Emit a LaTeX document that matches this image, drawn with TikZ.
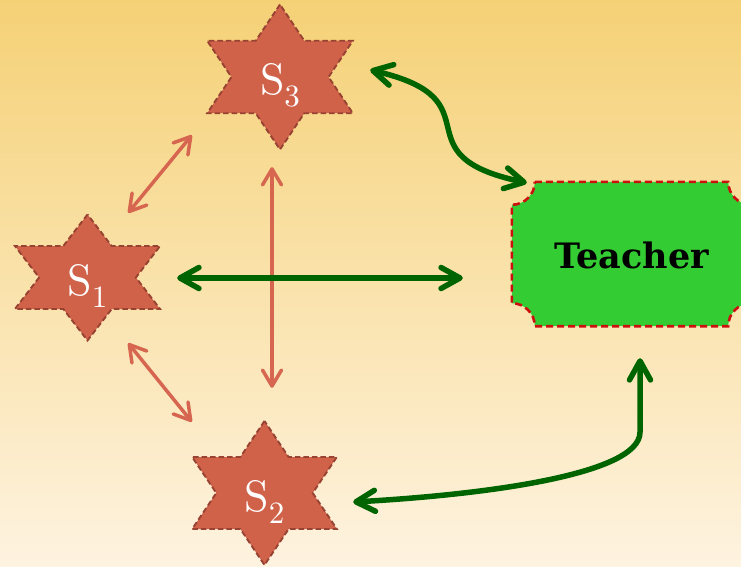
\documentclass[tikz,border=0pt]{standalone}
\usepackage{fontspec}
\usetikzlibrary{arrows.meta,calc}
\newfontfamily\teacherfont{DejaVu Serif}
\newfontfamily\labelfont{lmroman10-regular}[Extension=.otf]

\definecolor{bgtop}{RGB}{245,209,118}
\definecolor{bgbot}{RGB}{254,243,224}
\definecolor{starfill}{RGB}{208,98,74}
\definecolor{starline}{RGB}{152,66,50}
\definecolor{linkorange}{RGB}{214,102,80}
\definecolor{linkgreen}{RGB}{0,100,0}
\definecolor{boxgreen}{RGB}{51,204,51}
\definecolor{boxline}{RGB}{204,16,16}

\tikzset{
  starshape/.style={fill=starfill, draw=starline, line width=1.9pt, dash pattern=on 5.5pt off 3pt},
  starlabel/.style={text=white, inner sep=0pt, font=\labelfont\fontsize{44}{50}\selectfont},
  hullbox/.style={inner sep=0pt, minimum width=145pt},
  teacherbox/.style={fill=boxgreen, draw=boxline, line width=2.6pt, dash pattern=on 7pt off 4pt},
  oarrow/.style={draw=linkorange, line width=3.5pt, line cap=round,
    {Straight Barb[length=16pt,width=19pt,round]}-{Straight Barb[length=16pt,width=19pt,round]}},
  garrow/.style={draw=linkgreen, line width=5.5pt, line cap=round,
    {Straight Barb[length=19pt,width=21pt,round]}-{Straight Barb[length=19pt,width=21pt,round]}},
}

% six-pointed star: name, x, y, outer radius, horizontal stretch, subscript
\newcommand\hexstar[6]{%
  \begin{scope}[shift={(#2,#3)},xscale=#5]
    \draw[starshape] (90:#4) -- (120:#4*0.57735) -- (150:#4) -- (180:#4*0.57735)
      -- (210:#4) -- (240:#4*0.57735) -- (270:#4) -- (300:#4*0.57735)
      -- (330:#4) -- (0:#4*0.57735) -- (30:#4) -- (60:#4*0.57735) -- cycle;
  \end{scope}
  \node[hullbox, minimum height={2*#4pt}] (#1) at (#2,#3) {};
  \node[starlabel, anchor=base] (#1-label) at ([yshift=-18pt]#1.center)
    {S\raisebox{-12pt}{\fontsize{31}{31}\selectfont #6}};
}

\begin{document}
\begin{tikzpicture}[x=1pt,y=1pt]
  \clip (0,0) rectangle (741,-567);
  \shade[top color=bgtop, bottom color=bgbot] (0,0) rectangle (741,-567);

  % students
  \hexstar{s3}{280}{-77}{72.5}{1.16}{3}
  \hexstar{s1}{87.5}{-277.5}{63}{1.33}{1}
  \hexstar{s2}{264.5}{-493}{72}{1.16}{2}

  % teacher
  \node[inner sep=0pt, minimum width=239pt, minimum height=144pt] (teacher) at (631.5,-254) {};
  \draw[teacherbox]
    ([xshift=23pt]teacher.north west) -- ([xshift=-23pt]teacher.north east)
      arc[start angle=180, end angle=270, radius=23pt]
    -- ([yshift=23pt]teacher.south east)
      arc[start angle=90, end angle=180, radius=23pt]
    -- ([xshift=23pt]teacher.south west)
      arc[start angle=0, end angle=90, radius=23pt]
    -- ([yshift=-23pt]teacher.north west)
      arc[start angle=270, end angle=360, radius=23pt]
    -- cycle;
  \node[anchor=base, inner sep=0pt, font=\teacherfont\bfseries\fontsize{35}{40}\selectfont]
    (teacher-label) at ([yshift=-14pt]teacher.center) {Teacher};

  % links between students
  \draw[oarrow] ([shift={(-32,1.5)}]s1.north east) -- ([shift={(-15.5,14.5)}]s3.south west);
  \draw[oarrow] ([shift={(-32,-2.5)}]s1.south east) -- ([shift={(0,-1)}]s2.north west);
  \draw[oarrow] ([shift={(-8,-17.5)}]s3.south) -- ([shift={(7.5,33)}]s2.north);

  % links with the teacher
  \draw[garrow] ([shift={(17,-0.5)}]s1.east) -- ([shift={(-49,-24)}]teacher.west);
  \draw[garrow] ([shift={(17.5,7)}]s3.east) .. controls +(130,-30) and +(-132,28) ..
    ([shift={(15,-1)}]teacher.north west);
  \draw[garrow] ([shift={(16,-9)}]s2.east) .. controls +(127,7) and +(0,-43) ..
    ([shift={(8.5,-106)}]teacher.south) -- ([shift={(8.5,-32)}]teacher.south);
\end{tikzpicture}
\end{document}
